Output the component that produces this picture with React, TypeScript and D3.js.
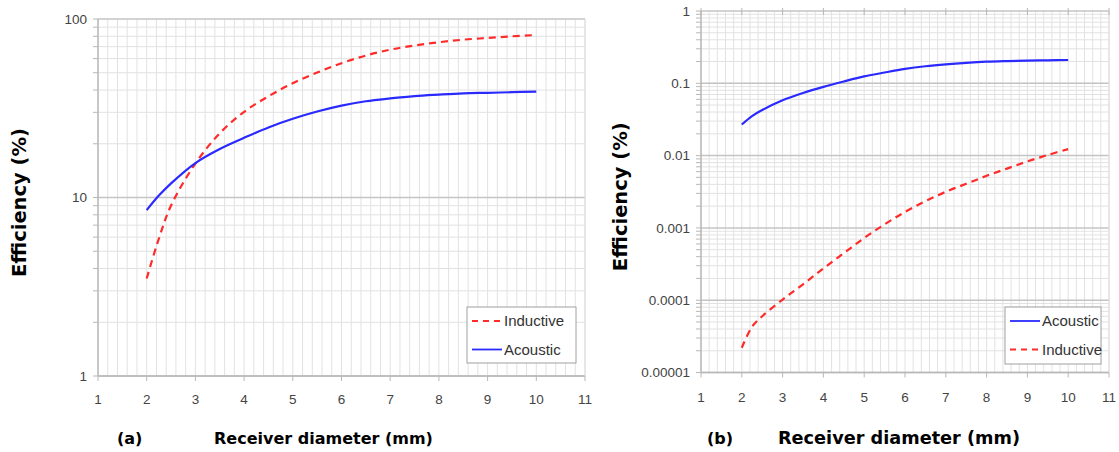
import React from "react";
import * as d3 from "d3";

// ---- Data ----
const diametersA = [2, 2.25, 2.5, 3, 3.5, 4, 4.5, 5, 5.5, 6, 6.5, 7, 7.5, 8, 8.5, 9, 9.5, 10];
const inductiveA = [3.52, 5.89, 9.02, 15.5, 22.9, 30.2, 36.9, 43.7, 50.1, 56.5, 62.4, 67.3, 71.1, 74.1, 76.6, 78.3, 80.0, 81.3];
const acousticA = [8.5, 10.25, 12.0, 15.6, 18.7, 21.6, 24.7, 27.6, 30.3, 32.7, 34.6, 35.9, 37.0, 37.7, 38.3, 38.6, 38.9, 39.2];

const diametersB = [2, 2.25, 2.5, 3, 3.5, 4, 4.5, 5, 5.5, 6, 6.5, 7, 7.5, 8, 8.5, 9, 9.5, 10];
const acousticB = [0.0269, 0.0352, 0.0427, 0.0582, 0.0733, 0.0891, 0.106, 0.1245, 0.141, 0.158, 0.172, 0.183, 0.192, 0.199, 0.203, 0.206, 0.208, 0.21];
const inductiveB = [0.000022, 0.0000427, 0.00006, 0.000102, 0.000166, 0.000275, 0.000447, 0.000724, 0.00112, 0.00166, 0.00234, 0.00316, 0.00407, 0.00525, 0.00661, 0.00832, 0.0102, 0.0123];

const xTicks = [1, 2, 3, 4, 5, 6, 7, 8, 9, 10, 11];
const yTicksA = [1, 10, 100];
const yTickLabelsA = ["1", "10", "100"];
const yTicksB = [0.00001, 0.0001, 0.001, 0.01, 0.1, 1];
const yTickLabelsB = ["0.00001", "0.0001", "0.001", "0.01", "0.1", "1"];

const RED = "#ff2a2a";
const BLUE = "#2a2aff";

type Series = { name: string; xs: number[]; ys: number[]; color: string; dashed: boolean };

function Panel(props: {
  left: number; right: number; top: number; bottom: number;
  yDomain: [number, number]; yTicks: number[]; yLabels: string[];
  series: Series[]; legend: { x: number; y: number; w: number; h: number };
  topTicks: boolean; xLabelDy: number;
  letter: string; letterX: number; titleX: number; titleSize: number; yTitleX: number;
}) {
  const { left, right, top, bottom } = props;
  const x = d3.scaleLinear().domain([1, 11]).range([left, right]);
  const y = d3.scaleLog().domain(props.yDomain).range([bottom, top]);
  const minorX = d3.range(1, 11.001, 0.2);
  const decades: number[] = [];
  for (let e = Math.round(Math.log10(props.yDomain[0])); e < Math.round(Math.log10(props.yDomain[1])); e++) decades.push(Math.pow(10, e));
  const minorY: number[] = [];
  decades.forEach((d) => { for (let k = 2; k <= 9; k++) minorY.push(d * k); });
  const line = d3.line<[number, number]>().x((p) => x(p[0])).y((p) => y(p[1])).curve(d3.curveCatmullRom.alpha(0.5));
  const lg = props.legend;
  return (
    <g>
      {minorX.map((v, i) => (
        <line key={"vx" + i} x1={x(v)} x2={x(v)} y1={top} y2={bottom} stroke="#e2e2e2" strokeWidth={1} />
      ))}
      {minorY.map((v, i) => (
        <line key={"hy" + i} x1={left} x2={right} y1={y(v)} y2={y(v)} stroke="#e2e2e2" strokeWidth={1} />
      ))}
      {props.yTicks.map((v, i) => (
        <line key={"my" + i} x1={left} x2={right} y1={y(v)} y2={y(v)} stroke="#c4c4c4" strokeWidth={1.5} />
      ))}
      <line x1={left} x2={left} y1={top} y2={bottom} stroke="#b8b8b8" strokeWidth={1.5} />
      <line x1={left} x2={right} y1={bottom} y2={bottom} stroke="#b8b8b8" strokeWidth={1.5} />
      <line x1={right} x2={right} y1={top} y2={bottom} stroke="#dcdcdc" strokeWidth={1} />
      {minorY.concat(props.yTicks).map((v, i) => (
        <line key={"yt" + i} x1={left - 5} x2={left} y1={y(v)} y2={y(v)} stroke="#b8b8b8" strokeWidth={1} />
      ))}
      {xTicks.map((v, i) => (
        <line key={"xt" + i} x1={x(v)} x2={x(v)} y1={bottom} y2={bottom + 5} stroke="#b8b8b8" strokeWidth={1} />
      ))}
      {props.topTicks && xTicks.map((v, i) => (
        <line key={"tt" + i} x1={x(v)} x2={x(v)} y1={top - 3} y2={top + 4} stroke="#b8b8b8" strokeWidth={1} />
      ))}
      {props.yTicks.map((v, i) => (
        <text key={"yl" + i} x={left - 11} y={y(v)} dy="0.35em" textAnchor="end" fontFamily="Liberation Sans, Arial, sans-serif" fontSize={13.5} fill="#444">{props.yLabels[i]}</text>
      ))}
      {xTicks.map((v, i) => (
        <text key={"xl" + i} x={x(v)} y={bottom + props.xLabelDy} textAnchor="middle" fontFamily="Liberation Sans, Arial, sans-serif" fontSize={13.5} fill="#444">{v}</text>
      ))}
      {props.series.map((s, i) => (
        <path key={"s" + i} d={line(s.xs.map((v, j) => [v, s.ys[j]] as [number, number])) || ""} fill="none" stroke={s.color} strokeWidth={2.2} strokeDasharray={s.dashed ? "7,5" : undefined} />
      ))}
      <rect x={lg.x} y={lg.y} width={lg.w} height={lg.h} fill="#fff" stroke="#a0a0a0" strokeWidth={1} />
      {props.series.map((s, i) => {
        const cy = lg.y + 14 + i * 28.5;
        return (
          <g key={"lg" + i}>
            <line x1={lg.x + 5} x2={lg.x + 35} y1={cy} y2={cy} stroke={s.color} strokeWidth={1.8} strokeDasharray={s.dashed ? "6,5" : undefined} />
            <text x={lg.x + 37} y={cy} dy="0.36em" fontFamily="Liberation Sans, Arial, sans-serif" fontSize={15} fill="#333">{s.name}</text>
          </g>
        );
      })}
      <text transform={`translate(${props.yTitleX},${(top + bottom) / 2 + 5}) rotate(-90)`} textAnchor="middle" fontFamily="DejaVu Sans, Verdana, sans-serif" fontWeight="bold" fontSize={19.5} fill="#000">Efficiency (%)</text>
      <text x={props.letterX} y={444} fontFamily="DejaVu Sans, Verdana, sans-serif" fontWeight="bold" fontSize={16} fill="#000">{props.letter}</text>
      <text x={props.titleX} y={444} fontFamily="DejaVu Sans, Verdana, sans-serif" fontWeight="bold" fontSize={props.titleSize} fill="#000">Receiver diameter (mm)</text>
    </g>
  );
}

export default function App() {
  return (
    <svg width={1119} height={452} style={{ position: "absolute", left: 0, top: 0, background: "#fff" }}>
      <rect x={0} y={0} width={1119} height={452} fill="#fff" />
      <Panel
        left={98} right={585} top={19} bottom={376}
        yDomain={[1, 100]} yTicks={yTicksA} yLabels={yTickLabelsA}
        series={[
          { name: "Inductive", xs: diametersA, ys: inductiveA, color: RED, dashed: true },
          { name: "Acoustic", xs: diametersA, ys: acousticA, color: BLUE, dashed: false },
        ]}
        legend={{ x: 467, y: 307, w: 109, h: 56 }}
        topTicks={false} xLabelDy={28}
        letter="(a)" letterX={117} titleX={214} titleSize={16} yTitleX={26}
      />
      <Panel
        left={701} right={1109} top={11} bottom={372.5}
        yDomain={[0.00001, 1]} yTicks={yTicksB} yLabels={yTickLabelsB}
        series={[
          { name: "Acoustic", xs: diametersB, ys: acousticB, color: BLUE, dashed: false },
          { name: "Inductive", xs: diametersB, ys: inductiveB, color: RED, dashed: true },
        ]}
        legend={{ x: 1005, y: 307, w: 96, h: 57 }}
        topTicks={true} xLabelDy={29}
        letter="(b)" letterX={707} titleX={778} titleSize={17.7} yTitleX={627}
      />
    </svg>
  );
}
